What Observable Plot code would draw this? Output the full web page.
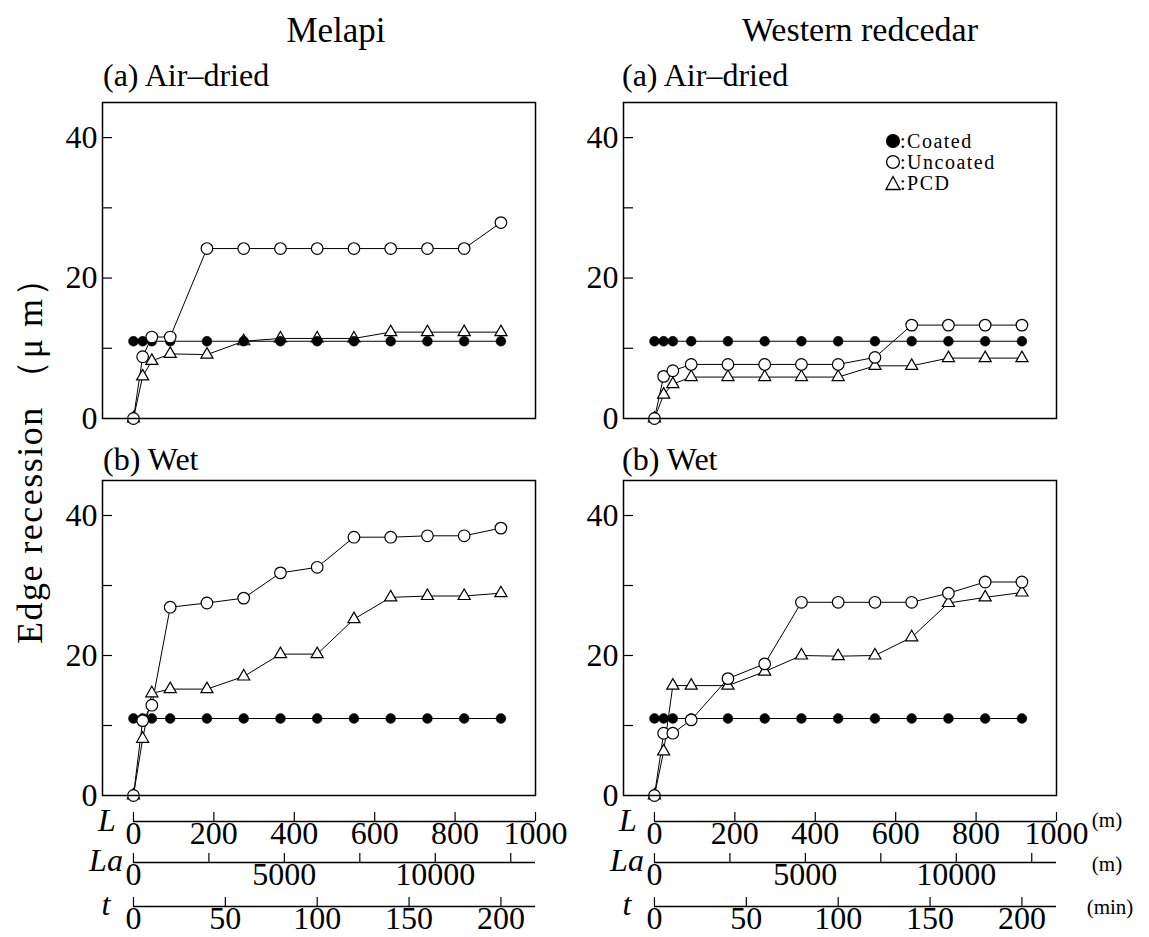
<!DOCTYPE html>
<html><head><meta charset="utf-8">
<script src="https://cdn.jsdelivr.net/npm/d3@7"></script>
<script src="https://cdn.jsdelivr.net/npm/@observablehq/plot@0.6"></script>
<style>
body{margin:0;background:#fff;}
#root{position:relative;width:1149px;height:937px;background:#fff;font-family:"Liberation Serif","Times New Roman",serif;color:#000;overflow:hidden}
#root svg text{font-family:"Liberation Serif","Times New Roman",serif}
.abs{position:absolute;white-space:nowrap;line-height:1}
.abs svg{display:block}
</style></head><body><div id="root"></div>
<script>
// ---- data ----
const times = [0, 5, 10, 20, 40, 60, 80, 100, 120, 140, 160, 180, 200]; // cutting time t (min)

const melapiAirCoated   = [11, 11, 11, 11, 11, 11, 11, 11, 11, 11, 11, 11, 11];
const melapiAirUncoated = [0, 8.8, 11.6, 11.6, 24.2, 24.2, 24.2, 24.2, 24.2, 24.2, 24.2, 24.2, 27.9];
const melapiAirPCD      = [0, 6.0, 8.2, 9.2, 9.1, 11.0, 11.4, 11.4, 11.4, 12.3, 12.3, 12.3, 12.3];

const cedarAirCoated    = [11, 11, 11, 11, 11, 11, 11, 11, 11, 11, 11, 11, 11];
const cedarAirUncoated  = [0, 6.0, 6.8, 7.7, 7.7, 7.7, 7.7, 7.7, 8.7, 13.3, 13.3, 13.3, 13.3];
const cedarAirPCD       = [0, 3.4, 4.9, 5.9, 5.9, 5.9, 5.9, 5.9, 7.5, 7.5, 8.6, 8.6, 8.6];

const melapiWetCoated   = [11, 11, 11, 11, 11, 11, 11, 11, 11, 11, 11, 11, 11];
const melapiWetUncoated = [0, 10.7, 12.9, 26.9, 27.5, 28.2, 31.8, 32.6, 36.9, 36.9, 37.1, 37.1, 38.2];
const melapiWetPCD      = [0, 8.1, 14.6, 15.2, 15.2, 17.0, 20.2, 20.2, 25.2, 28.3, 28.5, 28.5, 28.9];

const cedarWetCoated    = [11, 11, 11, 11, 11, 11, 11, 11, 11, 11, 11, 11, 11];
const cedarWetUncoated  = [0, 8.9, 8.9, 10.8, 16.7, 18.8, 27.6, 27.6, 27.6, 27.6, 28.9, 30.5, 30.5];
const cedarWetPCD       = [0, 6.3, 15.7, 15.7, 15.7, 17.7, 20.0, 19.9, 20.0, 22.6, 27.5, 28.3, 29.0];

const yTicks = [10, 20, 30, 40];
const yLabels = [0, 20, 40];
const lTicks = [0, 200, 400, 600, 800, 1000];          // L (m)
const laTicks = [0, 2500, 5000, 7500, 10000, 12500];   // La (m)
const laLabels = [0, 5000, 10000];
const tTicks = [0, 50, 100, 150, 200];                 // t (min)

// axis relations
const L_PER_MIN = 4.57;   // L (m) per minute
const LA_PER_L = 13.32;   // La per L
const L_DOMAIN = [-77, 1000];

// ---- layout ----
const root = document.getElementById("root");
const FRAME_W = 433, ML = 102, MR = 10;
const FONT = "Liberation Serif, Times New Roman, serif";

function place(node, left, top) {
  const d = document.createElement("div");
  d.className = "abs";
  d.style.left = left + "px"; d.style.top = top + "px";
  d.appendChild(node);
  root.appendChild(d);
  return d;
}
function text(str, x, y, {size = 30, anchor = "middle", italic = false, spacing = 0, rotate = 0, lh = 1} = {}) {
  const d = document.createElement("div");
  d.className = "abs";
  d.textContent = str;
  d.style.fontSize = size + "px";
  d.style.lineHeight = lh;
  d.style.left = x + "px"; d.style.top = y + "px";
  if (italic) d.style.fontStyle = "italic";
  if (spacing) d.style.letterSpacing = spacing + "px";
  const tx = anchor === "middle" ? "-50%" : anchor === "end" ? "-100%" : "0";
  d.style.transform = rotate ? `translate(-50%,-50%) rotate(${rotate}deg)` : `translate(${tx},-50%)`;
  root.appendChild(d);
  return d;
}

function rowsOf(coated, uncoated, pcd) {
  const rows = [];
  [["Coated", coated], ["Uncoated", uncoated], ["PCD", pcd]].forEach(([s, vals]) =>
    vals.forEach((v, i) => rows.push({t: times[i], v, s})));
  return rows;
}

function panel(rows, left, top, frameH) {
  const MT = 12, MB = 10;
  const svg = Plot.plot({
    width: ML + FRAME_W + MR, height: MT + frameH + MB,
    marginLeft: ML, marginRight: MR, marginTop: MT, marginBottom: MB,
    x: {domain: L_DOMAIN.map(d => d / L_PER_MIN), axis: null},
    y: {domain: [0, 45], label: null},
    style: {fontFamily: FONT, background: "transparent", color: "black", overflow: "visible"},
    marks: [
      Plot.axisY(yTicks, {tickSize: 10, dx: 10, fill: "none", stroke: "black", strokeWidth: 1.2, label: null}),
      Plot.axisY(yLabels, {tickSize: 0, tickPadding: 5, stroke: "none", fill: "black", fontSize: 32, fontFamily: FONT, label: null}),
      Plot.line(rows, {x: "t", y: "v", z: "s", stroke: "black", strokeWidth: 1}),
      Plot.dot(rows.filter(d => d.s === "PCD"), {x: "t", y: "v", symbol: "triangle", r: 4.5, fill: "white", stroke: "black", strokeWidth: 1.2}),
      Plot.dot(rows.filter(d => d.s === "Coated"), {x: "t", y: "v", r: 4.9, fill: "black", stroke: "black", strokeWidth: 0.5}),
      Plot.dot(rows.filter(d => d.s === "Uncoated"), {x: "t", y: "v", r: 5.8, fill: "white", stroke: "black", strokeWidth: 1.2}),
      Plot.frame({stroke: "black", strokeWidth: 1.5})
    ]
  });
  place(svg, left, top);
}

function axisStrip(domain, ticks, labels, left, lineY) {
  const x0 = ML + (0 - L_DOMAIN[0]) / (L_DOMAIN[1] - L_DOMAIN[0]) * FRAME_W;
  const MT = 0, MB = 45, H = 55;
  const svg = Plot.plot({
    width: ML + FRAME_W + MR, height: H,
    marginLeft: x0, marginRight: MR, marginTop: MT, marginBottom: MB,
    x: {domain, label: null},
    y: {domain: [0, 1], axis: null},
    style: {fontFamily: FONT, background: "transparent", color: "black", overflow: "visible"},
    marks: [
      Plot.ruleY([0], {stroke: "black", strokeWidth: 1.3}),
      Plot.axisX(ticks, {anchor: "bottom", tickSize: 9, dy: -9, fill: "none", stroke: "black", strokeWidth: 1.2, label: null}),
      Plot.axisX(labels, {anchor: "bottom", tickSize: 0, tickPadding: 0, stroke: "none", fill: "black", fontSize: 32, fontFamily: FONT, label: null, tickFormat: d => String(d)})
    ]
  });
  place(svg, left, lineY - (H - MB));
}

// panels
panel(rowsOf(melapiAirCoated, melapiAirUncoated, melapiAirPCD), 0, 90, 316);
panel(rowsOf(cedarAirCoated, cedarAirUncoated, cedarAirPCD), 521, 90, 316);
panel(rowsOf(melapiWetCoated, melapiWetUncoated, melapiWetPCD), 0, 468, 315);
panel(rowsOf(cedarWetCoated, cedarWetUncoated, cedarWetPCD), 521, 468, 315);

// bottom axes (L, La, t) under each column
const tMax = L_DOMAIN[1] / L_PER_MIN;
for (const left of [0, 521]) {
  axisStrip([0, L_DOMAIN[1]], lTicks, lTicks, left, 821);
  axisStrip([0, L_DOMAIN[1] * LA_PER_L], laTicks, laLabels, left, 862);
  axisStrip([0, tMax], tTicks, tTicks, left, 906);
  text("L", left + 107, 820, {size: 32, italic: true});
  text("La", left + 106, 860, {size: 32, italic: true});
  text("t", left + 106, 904, {size: 32, italic: true});
}
text("(m)", 1107, 820, {size: 21});
text("(m)", 1107, 864, {size: 21});
text("(min)", 1110, 907, {size: 21});

// titles
text("Melapi", 336, 30, {size: 35});
text("Western redcedar", 860, 30, {size: 34});
text("(a) Air–dried", 103, 75, {size: 32, anchor: "start"});
text("(a) Air–dried", 622, 75, {size: 32, anchor: "start"});
text("(b) Wet", 103, 459, {size: 32, anchor: "start"});
text("(b) Wet", 622, 459, {size: 32, anchor: "start"});

// y title
text("Edge recession （μ m）", 30, 452, {size: 36, spacing: 1.5, rotate: -90});

// legend
const legendItems = [["Coated", 141], ["Uncoated", 162], ["PCD", 183]];
legendItems.forEach(([name, y]) => {
  const ns = "http://www.w3.org/2000/svg";
  const s = document.createElementNS(ns, "svg");
  s.setAttribute("width", 16); s.setAttribute("height", 16);
  let shape;
  if (name === "PCD") {
    shape = document.createElementNS(ns, "path");
    shape.setAttribute("d", "M8,1.5 L15,14.5 L1,14.5 Z");
  } else {
    shape = document.createElementNS(ns, "circle");
    shape.setAttribute("cx", 8); shape.setAttribute("cy", 8); shape.setAttribute("r", 6.4);
  }
  shape.setAttribute("fill", name === "Coated" ? "black" : "white");
  shape.setAttribute("stroke", "black"); shape.setAttribute("stroke-width", 1.3);
  s.appendChild(shape);
  place(s, 885, y - 8);
  text(":" + name, 900, y, {size: 20, anchor: "start", lh: 1, spacing: 1.5});
});
</script>
</body></html>
